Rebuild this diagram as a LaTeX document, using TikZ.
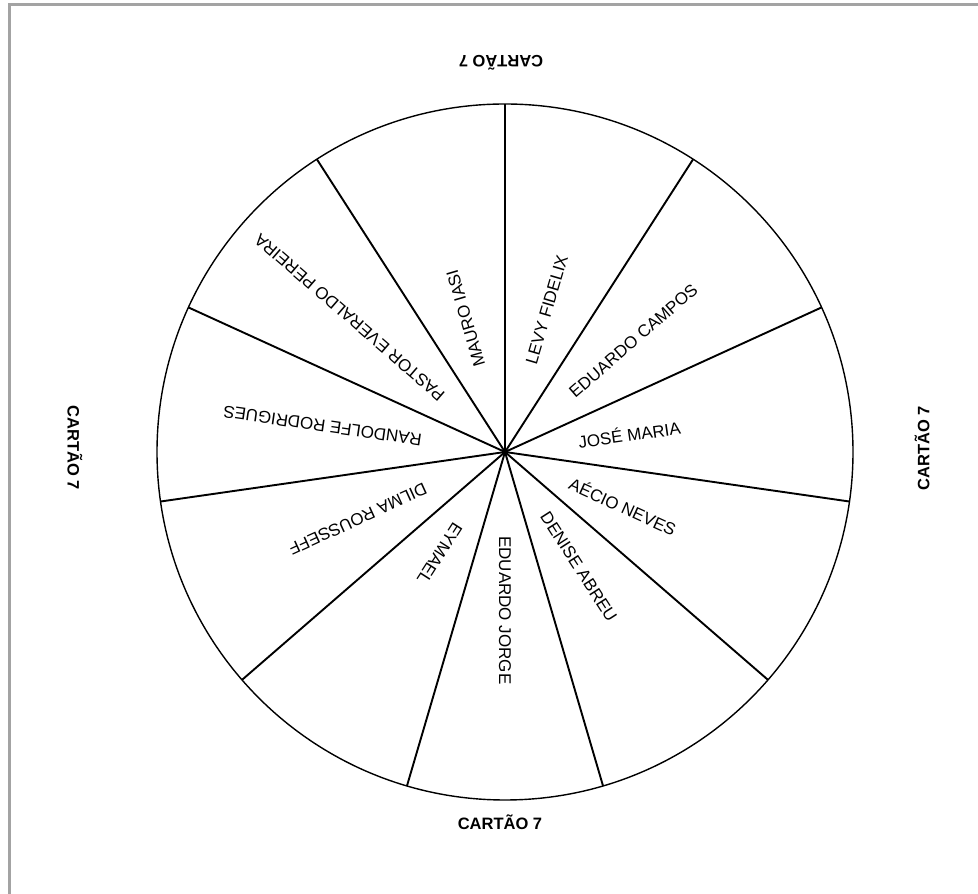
\documentclass[tikz,border=0pt]{standalone}
\usepackage{fontspec}
\setmainfont{Liberation Sans}
\definecolor{framegray}{HTML}{A3A3A3}
\begin{document}
\begin{tikzpicture}[x=1pt,y=1pt,
  spoke/.style={line width=1.9pt,black},
  rim/.style={line width=1.4pt,black},
  lbl/.style={font=\fontsize{17}{20}\selectfont,inner sep=0pt,anchor=west,text=black},
  card/.style={font=\bfseries\fontsize{16.5}{20}\selectfont,inner sep=0pt,text=black}]
\useasboundingbox (0,0) rectangle (978,894);
\fill[white] (0,0) rectangle (978,894);
% frame
\draw[framegray,line width=3pt] (9.5,0) -- (9.5,889) -- (978,889);
% wheel
\coordinate (c) at (505,442);
\draw[rim] (c) circle[radius=348pt];
\foreach \i in {0,...,10}{
  \coordinate (s\i) at ([shift={(c)}]{90-\i*32.72727}:348pt);
  \draw[spoke] (c) -- (s\i);
}
\fill (c) circle[radius=3pt];
% labels
\node[lbl,rotate=73.64]   (n0)  at ([shift={(c)}]73.64:92pt)   {LEVY FIDELIX};
\node[lbl,rotate=40.91]   (n1)  at ([shift={(c)}]40.91:88pt)   {EDUARDO CAMPOS};
\node[lbl,rotate=8.18]    (n2)  at ([shift={(c)}]8.18:74pt)    {JOSÉ MARIA};
\node[lbl,rotate=-24.55]  (n3)  at ([shift={(c)}]-24.55:72pt)  {AÉCIO NEVES};
\node[lbl,rotate=-57.27]  (n4)  at ([shift={(c)}]-57.27:73pt)  {DENISE ABREU};
\node[lbl,rotate=-90]     (n5)  at ([shift={(c)}]-90:84pt)     {EDUARDO JORGE};
\node[lbl,rotate=-122.73] (n6)  at ([shift={(c)}]-122.73:86pt) {EYMAEL};
\node[lbl,rotate=-155.45] (n7)  at ([shift={(c)}]-155.45:87pt) {DILMA ROUSSEFF};
\node[lbl,rotate=171.82]  (n8)  at ([shift={(c)}]171.82:84pt)  {RANDOLFE RODRIGUES};
\node[lbl,rotate=139.09]  (n9)  at ([shift={(c)}]139.09:83pt)  {PASTOR EVERALDO PEREIRA};
\node[lbl,rotate=106.36]  (n10) at ([shift={(c)}]106.36:89pt)  {MAURO IASI};
% card labels
\node[card,rotate=180] (ct) at (501,831) {CARTÃO 7};
\node[card]            (cb) at (500,72)  {CARTÃO 7};
\node[card,rotate=-90] (cl) at (75,446)  {CARTÃO 7};
\node[card,rotate=90]  (cr) at (922,446) {CARTÃO 7};
\end{tikzpicture}
\end{document}
